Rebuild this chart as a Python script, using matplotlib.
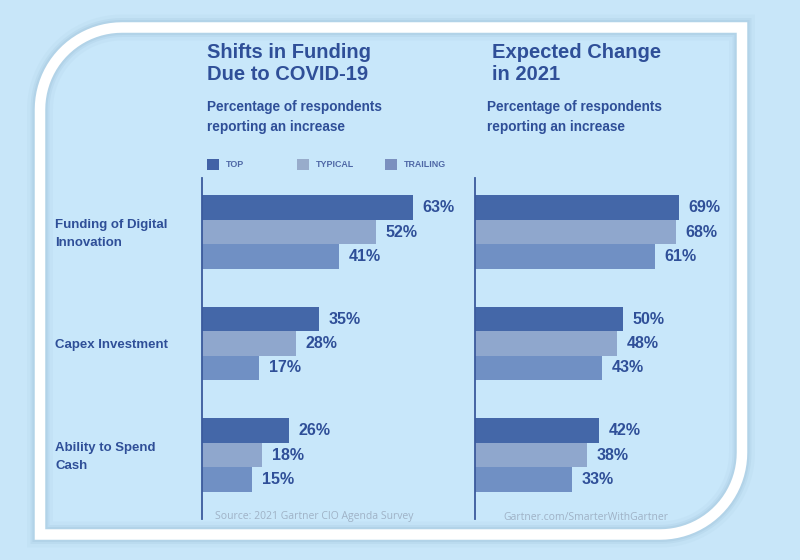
import matplotlib
import matplotlib.pyplot as plt
import matplotlib.patches as mpatches
import matplotlib.transforms as mtrans
from matplotlib.path import Path
import numpy as np
matplotlib.use('Agg')


######################
# DATA
######################

categories = ['Funding of Digital\nInnovation', 'Capex Investment', 'Ability to Spend\nCash']
series_names = ['TOP', 'TYPICAL', 'TRAILING']
shifts_top = [63, 35, 26]
shifts_typical = [52, 28, 18]
shifts_trailing = [41, 17, 15]
expected_top = [69, 50, 42]
expected_typical = [68, 48, 38]
expected_trailing = [61, 43, 33]

left_title = 'Shifts in Funding\nDue to COVID-19'
right_title = 'Expected Change\nin 2021'
subtitle = 'Percentage of respondents\nreporting an increase'
source_text = 'Source: 2021 Gartner CIO Agenda Survey'
site_text = 'Gartner.com/SmarterWithGartner'

######################
# STYLE
######################

W, H = 800, 560
bg_color = '#c8e6f9'
text_color = '#2f4f98'
bar_colors = ['#4467a8', '#8fa7cd', '#7090c4']
legend_colors = ['#4262a6', '#98accb', '#7b90bf']
axis_color = '#3b5a9c'
footer_color = '#9fb2c6'
bold_font = ['Liberation Sans', 'DejaVu Sans']

bar_px = 24.5          # bar thickness in pixels
group_gap = 111.5 / bar_px


def fx(px):
    return px / W


def fy(py):
    # image y (from top) -> figure fraction
    return 1 - py / H


fig = plt.figure(figsize=(W / 100, H / 100), dpi=100, facecolor=bg_color)

######################
# FRAME
######################

left, right, top, bottom, r = 40, 742, 560 - 27.5, 560 - 534.5, 82
t1 = np.linspace(np.pi, np.pi / 2, 24)
t2 = np.linspace(0, -np.pi / 2, 24)
verts = [(left, bottom), (left, top - r)]
verts += [(left + r + r * np.cos(t), top - r + r * np.sin(t)) for t in t1]
verts += [(right, top), (right, bottom + r)]
verts += [(right - r + r * np.cos(t), bottom + r + r * np.sin(t)) for t in t2]
verts += [(left, bottom)]
codes = [Path.MOVETO] + [Path.LINETO] * (len(verts) - 2) + [Path.CLOSEPOLY]
frame_path = Path(verts, codes)

ident = mtrans.IdentityTransform()
fig.add_artist(mpatches.PathPatch(frame_path, facecolor='#c8e7fa', edgecolor='none', transform=ident, zorder=0))
for lw, a in [(26, 0.08), (19, 0.14), (15, 0.2)]:
    fig.add_artist(mpatches.PathPatch(frame_path, facecolor='none', edgecolor='#8fb3cc', lw=lw * 0.72,
                                      alpha=a, transform=ident, zorder=0.5, joinstyle='miter'))
fig.add_artist(mpatches.PathPatch(frame_path, facecolor='none', edgecolor='white', lw=10.5 * 0.72,
                                  transform=ident, zorder=1, joinstyle='miter'))

######################
# BARS
######################

ax_top, ax_bot = 178, 519
y_top0 = 207.5


def draw_panel(x0_px, width_px, scale, values):
    ax = fig.add_axes([fx(x0_px), fy(ax_bot), fx(width_px), (ax_bot - ax_top) / H])
    ax.patch.set_alpha(0)
    ax.set_xlim(0, width_px / scale)
    ax.set_ylim((ax_bot - y_top0) / bar_px, (ax_top - y_top0) / bar_px)
    for spine in ['top', 'right', 'bottom']:
        ax.spines[spine].set_visible(False)
    ax.spines['left'].set_color(axis_color)
    ax.spines['left'].set_linewidth(1.3)
    ax.set_xticks([])
    ax.set_yticks([])
    for b, (vals, col) in enumerate(zip(values, bar_colors)):
        ys = [g * group_gap + b for g in range(len(vals))]
        bars = ax.barh(ys, vals, height=1.0, color=col, zorder=2)
        ax.bar_label(bars, labels=['%d%%' % v for v in vals], padding=7, color=text_color,
                     fontsize=11.5, fontweight='bold', family=bold_font)
    return ax


ax1 = draw_panel(202, 250, 3.35, [shifts_top, shifts_typical, shifts_trailing])
ax2 = draw_panel(475, 250, 2.95, [expected_top, expected_typical, expected_trailing])

# category labels
lab_tr = mtrans.blended_transform_factory(fig.transFigure, ax1.transData)
for g, cat in enumerate(categories):
    ax1.text(fx(55), g * group_gap + 1.08, cat, transform=lab_tr, ha='left', va='center',
             color=text_color, fontsize=9.5, fontweight='bold', family=bold_font, linespacing=1.6)

######################
# TITLES / LEGEND / FOOTER
######################

fig.text(fx(207), fy(43), left_title, ha='left', va='top', color=text_color, fontsize=14.5,
         fontweight='bold', family=bold_font, linespacing=1.2)
fig.text(fx(492), fy(43), right_title, ha='left', va='top', color=text_color, fontsize=14.5,
         fontweight='bold', family=bold_font, linespacing=1.2)
fig.text(fx(207), fy(100), subtitle, ha='left', va='top', color=text_color, fontsize=9.8,
         fontweight='bold', family=bold_font, linespacing=1.5)
fig.text(fx(487), fy(100), subtitle, ha='left', va='top', color=text_color, fontsize=9.8,
         fontweight='bold', family=bold_font, linespacing=1.5)

legend_x = [207, 297, 385]
for x, name, col in zip(legend_x, series_names, legend_colors):
    fig.add_artist(mpatches.Rectangle((x, 560 - 170), 12, 11, facecolor=col, edgecolor='none',
                                      transform=ident, zorder=3))
    fig.text(fx(x + 19), fy(164.5), name, ha='left', va='center', color='#4f68a6', fontsize=6.4,
             fontweight='bold', family=bold_font)

fig.text(fx(215), fy(517), source_text, ha='left', va='center', color=footer_color, fontsize=7.5,
         family=['Open Sans', 'DejaVu Sans'])
fig.text(fx(503), fy(517), site_text, ha='left', va='center', color=footer_color, fontsize=7.5,
         family=['Open Sans', 'DejaVu Sans'])

fig.savefig('out.png', dpi=100, facecolor=bg_color)
plt.close(fig)
